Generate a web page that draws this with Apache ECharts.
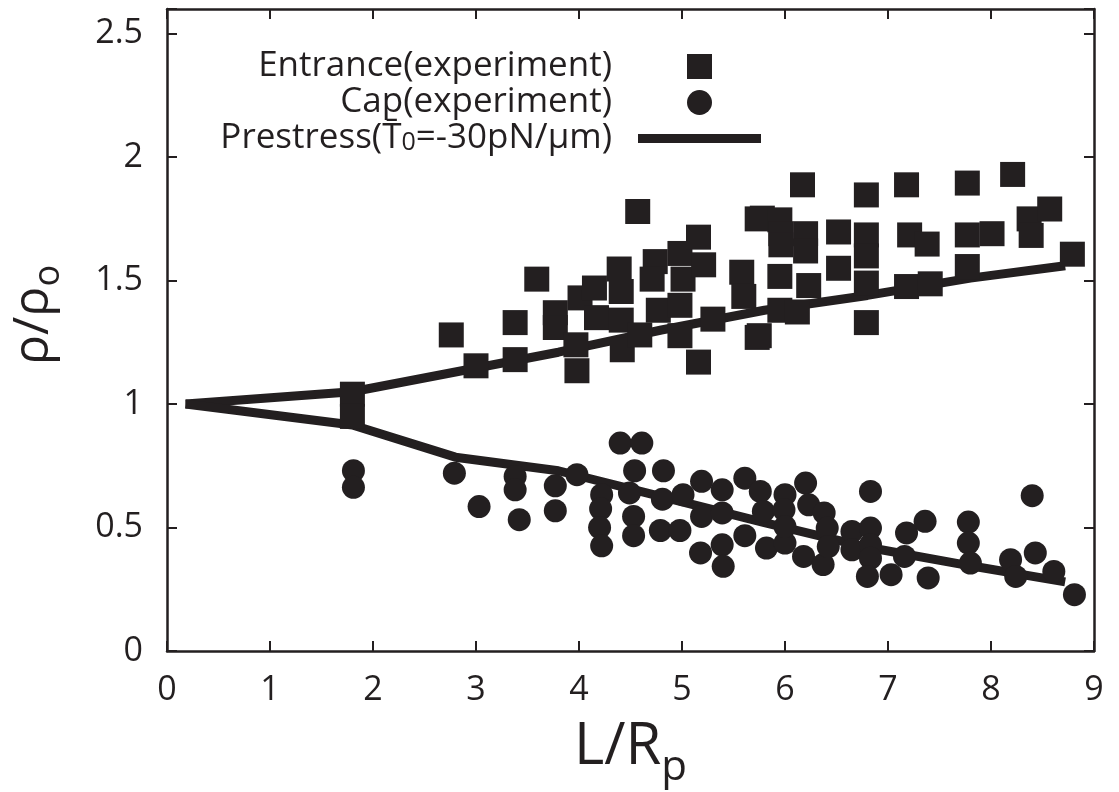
<!DOCTYPE html>
<html>
<head>
<meta charset="utf-8">
<script src="https://cdn.jsdelivr.net/npm/echarts@6/dist/echarts.min.js"></script>
<style>
  html, body { margin: 0; padding: 0; background: #fff; }
  #chart { width: 1119px; height: 792px; }
</style>
</head>
<body>
<div id="chart"></div>
<script>
// 数据：入口（方块）
var entrance = [
  [1.8, 1.04], [1.8, 0.95],
  [2.76, 1.28], [3.0, 1.155], [3.38, 1.33], [3.38, 1.18], [3.59, 1.506],
  [3.77, 1.37], [3.77, 1.31], [3.98, 1.135], [3.97, 1.24], [4.01, 1.43],
  [4.15, 1.47], [4.39, 1.547], [4.17, 1.35], [4.41, 1.456], [4.41, 1.34],
  [4.42, 1.22], [4.57, 1.78], [4.59, 1.28], [4.74, 1.577], [4.71, 1.506],
  [4.77, 1.38], [4.98, 1.61], [5.01, 1.506], [4.98, 1.40], [4.98, 1.277],
  [5.16, 1.676], [5.21, 1.564], [5.30, 1.344], [5.16, 1.17], [5.58, 1.534],
  [5.60, 1.436], [5.73, 1.75], [5.73, 1.27], [5.75, 1.277],
  [5.78, 1.753], [5.95, 1.746], [5.96, 1.69], [6.2, 1.69], [5.96, 1.645],
  [6.2, 1.62], [6.17, 1.888], [6.52, 1.697], [6.52, 1.55], [5.95, 1.517],
  [6.23, 1.48], [5.95, 1.38], [6.12, 1.373], [6.79, 1.847], [6.79, 1.685],
  [6.79, 1.60], [6.79, 1.49], [6.79, 1.33], [7.18, 1.888], [7.21, 1.685],
  [7.38, 1.648], [7.18, 1.476], [7.41, 1.487], [7.77, 1.895], [7.77, 1.685],
  [8.01, 1.69], [7.77, 1.557], [8.21, 1.93], [8.37, 1.75], [8.57, 1.79],
  [8.39, 1.683], [8.79, 1.607]
];
// 数据：帽（圆点）
var cap = [
  [1.81, 0.73], [1.81, 0.663], [2.79, 0.72], [3.03, 0.585], [3.38, 0.707],
  [3.38, 0.653], [3.42, 0.532], [3.77, 0.669], [3.77, 0.568], [3.98, 0.714],
  [4.40, 0.842], [4.61, 0.842], [4.54, 0.73], [4.82, 0.73], [4.22, 0.633],
  [4.21, 0.576], [4.20, 0.50], [4.22, 0.426], [4.49, 0.64], [4.53, 0.545],
  [4.53, 0.467], [4.79, 0.488], [4.98, 0.488], [4.81, 0.615], [5.01, 0.633],
  [5.19, 0.687], [5.18, 0.397], [5.19, 0.545], [5.39, 0.653], [5.61, 0.70],
  [5.76, 0.646], [6.0, 0.633], [6.2, 0.68], [6.23, 0.592], [6.38, 0.559],
  [5.79, 0.565], [5.99, 0.572], [5.39, 0.559], [5.39, 0.43], [5.40, 0.343],
  [5.61, 0.467], [5.82, 0.417], [6.0, 0.437], [6.0, 0.504], [6.18, 0.383],
  [6.41, 0.498], [6.37, 0.35], [6.42, 0.423], [6.65, 0.484], [6.65, 0.41],
  [6.83, 0.646], [6.83, 0.498], [6.83, 0.43], [6.83, 0.376], [6.80, 0.302],
  [7.03, 0.309], [7.18, 0.478], [7.36, 0.525], [7.16, 0.383], [7.39, 0.296],
  [7.78, 0.522], [7.78, 0.437], [7.80, 0.356], [8.19, 0.37], [8.24, 0.302],
  [8.40, 0.629], [8.43, 0.397], [8.61, 0.322], [8.81, 0.228]
];
// 预应力模型曲线
var prestressX = [0.18, 1.8, 2.8, 3.8, 4.8, 5.8, 6.8, 7.8, 8.72];
var upperY = [1.0, 1.05, 1.13, 1.21, 1.30, 1.38, 1.44, 1.51, 1.56];
var lowerY = [1.0, 0.915, 0.785, 0.73, 0.625, 0.52, 0.42, 0.345, 0.28];
var yTicks = [0, 0.5, 1, 1.5, 2, 2.5];

var INK = '#231f20';
var FONT = 'Open Sans';
var PRESTRESS = 'Prestress(T\u0304{sub|0}=-30pN/\u03bcm)';

function pairs(xs, ys) {
  var out = [];
  for (var i = 0; i < xs.length; i++) out.push([xs[i], ys[i]]);
  return out;
}

var myChart = echarts.init(document.getElementById('chart'));

var axisLine = { show: true, onZero: false, lineStyle: { color: INK, width: 2.5 } };
var tick = { show: true, inside: true, length: 10, lineStyle: { color: INK, width: 2 } };

option = {
  animation: false,
  backgroundColor: '#fff',
  grid: { left: 167, right: 25, top: 9, bottom: 141, containLabel: false, outerBoundsMode: 'none' },
  legend: {
    orient: 'vertical',
    align: 'right',
    right: 353,
    top: 44,
    itemWidth: 123,
    itemHeight: 25,
    itemGap: 1,
    selectedMode: false,
    textStyle: {
      fontFamily: FONT, fontSize: 35, lineHeight: 34, color: INK, padding: [0, 21, 0, 0],
      rich: { sub: { fontFamily: FONT, fontSize: 25, color: INK, verticalAlign: 'bottom', padding: [22, 0, 0, 0] } }
    },
    data: [
      { name: 'Entrance(experiment)', icon: 'path://M0,0L25,0L25,25L0,25Z' },
      { name: 'Cap(experiment)', icon: 'circle' },
      { name: PRESTRESS, icon: 'path://M0,0L123,0L123,9L0,9Z' }
    ]
  },
  xAxis: [{
    type: 'value', position: 'bottom', min: 0, max: 9, interval: 1,
    axisLine: axisLine, axisTick: tick, splitLine: { show: false },
    axisLabel: { fontFamily: FONT, fontSize: 34, color: INK, margin: 22 },
    name: 'L/R{sub|p}', nameLocation: 'middle', nameGap: 54,
    nameTextStyle: {
      fontFamily: FONT, fontSize: 58, color: INK,
      rich: { sub: { fontFamily: FONT, fontSize: 42, color: INK, padding: [42, 0, 0, 0] } }
    }
  }, {
    type: 'value', position: 'top', min: 0, max: 9, interval: 1,
    axisLine: axisLine, axisTick: tick, splitLine: { show: false },
    axisLabel: { show: false }
  }],
  yAxis: [{
    type: 'value', position: 'left', min: 0, max: 2.6, interval: 0.5,
    axisLine: axisLine, axisTick: tick, splitLine: { show: false },
    axisLabel: {
      fontFamily: FONT, fontSize: 34, color: INK, margin: 24,
      formatter: function (v) { return yTicks.indexOf(v) >= 0 ? String(v) : ''; }
    },
    name: '\u03c1/\u03c1{sub|o}', nameLocation: 'middle', nameRotate: 90, nameGap: 100,
    nameTextStyle: {
      fontFamily: FONT, fontSize: 50, color: INK, padding: [0, 0, 0, 30],
      rich: { sub: { fontFamily: FONT, fontSize: 36, color: INK, padding: [30, 0, 0, 0] } }
    }
  }, {
    type: 'value', position: 'right', min: 0, max: 2.6, interval: 0.5,
    axisLine: axisLine, axisTick: tick, splitLine: { show: false },
    axisLabel: { show: false }
  }],
  series: [
    {
      name: PRESTRESS, type: 'line', data: pairs(prestressX, upperY),
      symbol: 'none', lineStyle: { color: INK, width: 9 }, itemStyle: { color: INK }, z: 2
    },
    {
      name: PRESTRESS, type: 'line', data: pairs(prestressX, lowerY),
      symbol: 'none', lineStyle: { color: INK, width: 9 }, itemStyle: { color: INK }, z: 2
    },
    {
      name: 'Entrance(experiment)', type: 'scatter', data: entrance,
      symbol: 'rect', symbolSize: 25, itemStyle: { color: INK, opacity: 1 }, z: 3
    },
    {
      name: 'Cap(experiment)', type: 'scatter', data: cap,
      symbol: 'circle', symbolSize: 23, itemStyle: { color: INK, opacity: 1 }, z: 3
    }
  ]
};
myChart.setOption(option);
</script>
</body>
</html>
